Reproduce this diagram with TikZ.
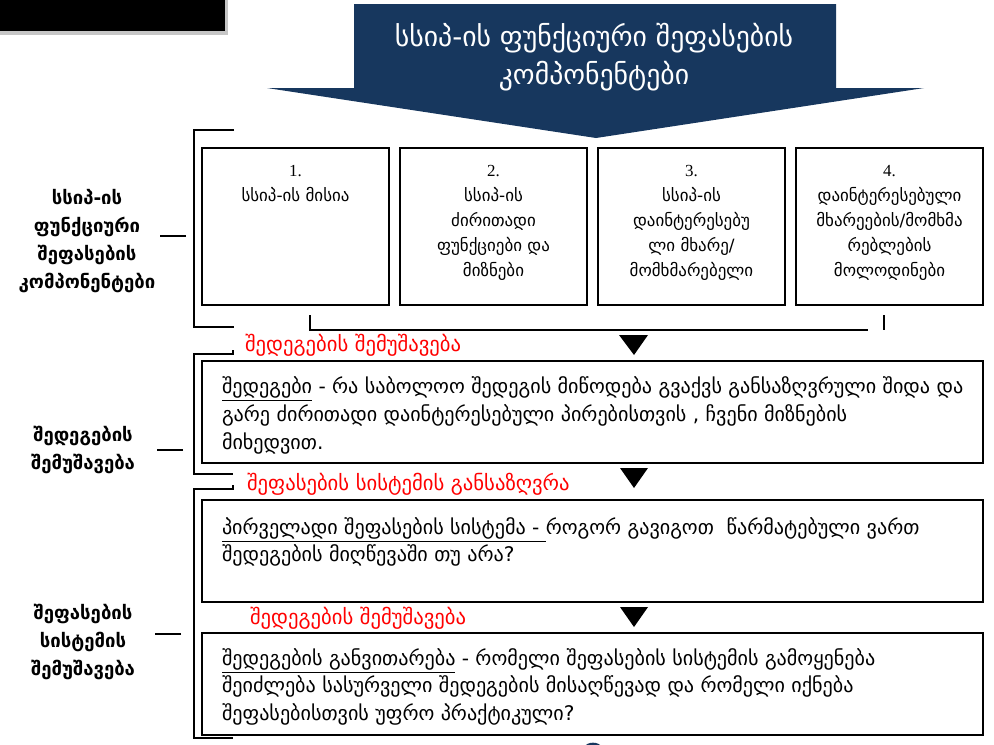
\documentclass[tikz,border=0pt]{standalone}
\usepackage{fontspec}
\setmainfont{DejaVu Sans}
\newfontfamily\numfont{Liberation Serif}
\usetikzlibrary{positioning}
\definecolor{navy}{HTML}{17375E}

\begin{document}
\begin{tikzpicture}[
    x=0.75pt, y=-0.75pt,
    every node/.style = {inner sep=0pt, outer sep=0pt},
    line/.style      = {line width=1.5pt},
    topbox/.style    = {rectangle, draw, line width=1.5pt,
                        minimum width=140.25pt, minimum height=117.75pt},
    widebox/.style   = {rectangle, draw, line width=1.5pt,
                        minimum width=585.75pt, minimum height=76.5pt},
    boxtext/.style   = {align=center, font=\fontsize{12.7}{18.75}\selectfont},
    bodytext/.style  = {align=left, anchor=north west,
                        font=\fontsize{15.1}{20.75}\selectfont},
    sidelabel/.style = {align=center, font=\bfseries\fontsize{13.9}{21}\selectfont},
    redlabel/.style  = {anchor=west, text=red, font=\fontsize{15.5}{18}\selectfont},
    tri/.style       = {fill=black}
]
\useasboundingbox (0,0) rectangle (994,744);

% header
\fill[gray!45] (0,0) rectangle (228,35);
\fill[black] (0,0) rectangle (225,31);
\fill[navy] (354,4) -- (836,4) -- (836,88) -- (924,88) -- (596,138)
            -- (267,88) -- (354,88) -- cycle;
\node[align=center, text=white, font=\fontsize{20.8}{28}\selectfont] (title) at (594,57)
    {სსიპ-ის ფუნქციური შეფასების\\კომპონენტები};

% four components
\node[topbox] (c1) at (295.5,226.5) {};
\node[topbox, right=8.25pt of c1] (c2) {};
\node[topbox, right=8.25pt of c2] (c3) {};
\node[topbox, right=8.25pt of c3] (c4) {};
\node[boxtext, below=13pt of c1.north] (t1) {{\numfont 1.}\\სსიპ-ის მისია};
\node[boxtext, below=13pt of c2.north] (t2) {{\numfont 2.}\\სსიპ-ის\\ძირითადი\\ფუნქციები და\\მიზნები};
\node[boxtext, below=13pt of c3.north] (t3) {{\numfont 3.}\\სსიპ-ის\\დაინტერესებუ\\ლი მხარე/\\მომხმარებელი};
\node[boxtext, below=13pt of c4.north] (t4) {{\numfont 4.}\\დაინტერესებული\\მხარეების/მომხმა\\რებლების\\მოლოდინები};

% wide boxes
\node[widebox] (b1) at (592.5,412) {};
\node[widebox] (b2) at (592.5,551) {};
\node[widebox] (b3) at (592.5,684) {};
\node[bodytext] (p1) at ([xshift=15pt,yshift=-12pt]b1.north west)
    {\underline{შედეგები} - რა საბოლოო შედეგის მიწოდება გვაქვს განსაზღვრული შიდა და\\
     გარე ძირითადი დაინტერესებული პირებისთვის , ჩვენი მიზნების\\
     მიხედვით.};
\node[bodytext] (p2) at ([xshift=15pt,yshift=-13pt]b2.north west)
    {\underline{პირველადი შეფასების სისტემა - }როგორ გავიგოთ~ წარმატებული ვართ\\
     შედეგების მიღწევაში თუ არა?};
\node[bodytext] (p3) at ([xshift=15pt,yshift=-11.5pt]b3.north west)
    {\underline{შედეგების განვითარება} - რომელი შეფასების სისტემის გამოყენება\\
     შეიძლება სასურველი შედეგების მისაღწევად და რომელი იქნება\\
     შეფასებისთვის უფრო პრაქტიკული?};

% red step labels
\node[redlabel] (r1) at (245,345) {შედეგების შემუშავება};
\node[redlabel] (r2) at (247,484) {შეფასების სისტემის განსაზღვრა};
\node[redlabel] (r3) at (250,618) {შედეგების შემუშავება};

% arrow heads
\fill[tri] (619,335) -- (648,335) -- (634,355) -- cycle;
\fill[tri] (620,468) -- (648,468) -- (634,488) -- cycle;
\fill[tri] (620,607) -- (648,607) -- (634,627) -- cycle;

% brackets
\draw[line] (234,130) -- (194,130) -- (194,327) -- (234,327);
\draw[line] (310,315) -- (310,330) -- (868,330);
\draw[line] (884,315) -- (884,330);
\draw[line] (233,350) -- (233,354) -- (194,354) -- (194,474) -- (233,474);
\draw[line] (233,485) -- (233,489) -- (194,489) -- (194,738) -- (233,738);
\coordinate (k1) at (186,236);
\coordinate (k2) at (183,450);
\coordinate (k3) at (181,634);

% side labels
\node[sidelabel] (s1) at (87,241) {სსიპ-ის\\ფუნქციური\\შეფასების\\კომპონენტები};
\node[sidelabel] (s2) at (83,450) {შედეგების\\შემუშავება};
\node[sidelabel] (s3) at (83,642) {შეფასების\\სისტემის\\შემუშავება};
\draw[line] (k1) -- ++(-26,0);
\draw[line] (k2) -- ++(-26,0);
\draw[line] (k3) -- ++(-26,0);

\begin{scope}
  \clip (0,0) rectangle (994,744);
  \fill[navy] (593,756) circle[radius=10pt];
\end{scope}
\end{tikzpicture}
\end{document}
